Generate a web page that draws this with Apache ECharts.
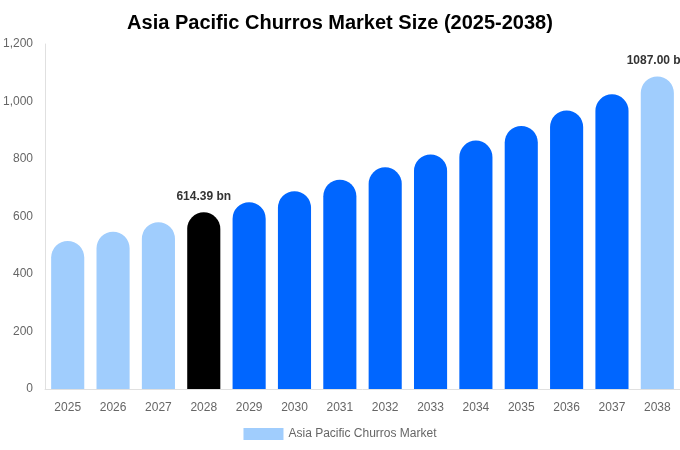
<!DOCTYPE html>
<html>
<head>
<meta charset="utf-8">
<title>Asia Pacific Churros Market Size</title>
<script src="https://cdn.jsdelivr.net/npm/echarts@6/dist/echarts.min.js"></script>
<style>
  html, body { margin: 0; padding: 0; background: #fff; }
  #chart { width: 680px; height: 450px; }
</style>
</head>
<body>
<div id="chart"></div>
<script>
// 数据
var years = ['2025', '2026', '2027', '2028', '2029', '2030', '2031', '2032', '2033', '2034', '2035', '2036', '2037', '2038'];
var marketSize = [515, 547, 580, 614.39, 650, 688, 728, 771, 816, 864, 915, 969, 1025, 1087];
var barColors = ['#a0cdfd', '#a0cdfd', '#a0cdfd', '#000000', '#0066ff', '#0066ff', '#0066ff', '#0066ff', '#0066ff', '#0066ff', '#0066ff', '#0066ff', '#0066ff', '#a0cdfd'];
var labelled = ['2028', '2038'];

var chart = echarts.init(document.getElementById('chart'));

var option = {
    animation: false,
    title: {
        text: 'Asia Pacific Churros Market Size (2025-2038)',
        left: 'center',
        top: 8,
        textStyle: { fontFamily: 'Liberation Sans, Arial', fontSize: 20, fontWeight: 'bold', color: '#000' }
    },
    legend: {
        bottom: 5,
        left: 'center',
        itemWidth: 40,
        itemHeight: 12,
        icon: 'rect',
        textStyle: { fontFamily: 'Liberation Sans, Arial', fontSize: 12, color: '#666' },
        data: [{ name: 'Asia Pacific Churros Market', itemStyle: { color: '#a0cdfd' } }]
    },
    grid: { left: 43, right: 0, top: 44, bottom: 61 },
    xAxis: {
        type: 'category',
        data: years,
        axisLine: { lineStyle: { color: '#e0e0e0' } },
        axisTick: { show: false },
        axisLabel: { color: '#666', fontSize: 12, margin: 13, fontFamily: 'Liberation Sans, Arial' }
    },
    yAxis: {
        type: 'value',
        min: 0,
        max: 1200,
        interval: 200,
        axisLine: { show: true, lineStyle: { color: '#e0e0e0' } },
        axisTick: { show: false },
        splitLine: { show: false },
        axisLabel: {
            color: '#666', fontSize: 12, margin: 12, fontFamily: 'Liberation Sans, Arial',
            formatter: function (v) { return v.toLocaleString('en-US'); }
        }
    },
    series: [{
        name: 'Asia Pacific Churros Market',
        type: 'bar',
        barWidth: '73%',
        data: marketSize.map(function (v, i) {
            return {
                value: v,
                itemStyle: { color: barColors[i], borderRadius: [17, 17, 0, 0] },
                label: {
                    show: labelled.indexOf(years[i]) >= 0,
                    position: 'top',
                    distance: 10,
                    formatter: function (p) { return p.value.toFixed(2) + ' bn'; },
                    fontFamily: 'Liberation Sans, Arial',
                    fontSize: 12,
                    fontWeight: 'bold',
                    color: '#333'
                }
            };
        })
    }]
};

chart.setOption(option);
</script>
</body>
</html>
